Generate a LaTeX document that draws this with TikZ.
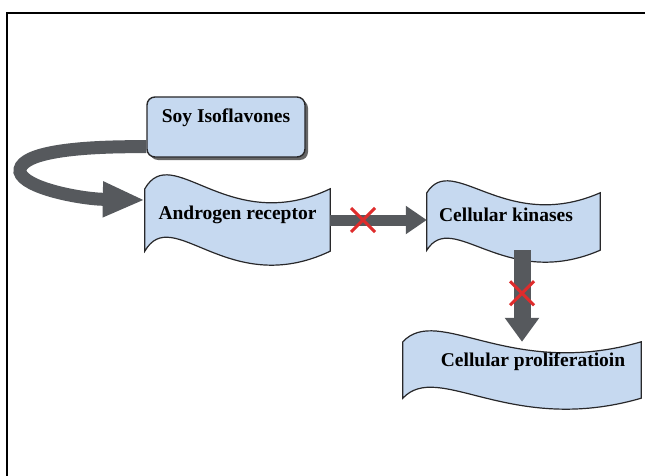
\documentclass[tikz,border=0pt]{standalone}
\usepackage{fontspec}
\setmainfont{Liberation Serif}
\usetikzlibrary{arrows.meta,calc,shapes.misc,shadows,backgrounds}

\definecolor{boxblue}{RGB}{198,217,240}
\definecolor{edgegray}{RGB}{40,40,42}
\definecolor{arrowgray}{RGB}{86,89,93}
\definecolor{crossred}{RGB}{222,44,44}

\tikzset{
	box/.style={draw=edgegray, line width=1.4pt, fill=boxblue, rounded corners=8pt,
		minimum width=158pt, minimum height=60pt, text depth=23pt,
		font=\bfseries\fontsize{19.5}{22}\selectfont,
		drop shadow={shadow xshift=3pt, shadow yshift=-3pt, fill=black!60, opacity=1}},
	tape/.style={inner sep=0pt, font=\bfseries\fontsize{19.5}{22}\selectfont},
	tapeline/.style={draw=edgegray, line width=1.2pt, fill=boxblue},
	flow/.style={draw=arrowgray, line width=11pt, -{Triangle[length=21pt,width=27pt]}},
	blockmark/.style={cross out, draw=crossred, line width=3pt, minimum size=21pt, inner sep=0pt}
}

% wavy banner behind a node: name, wave height
\newcommand{\drawtape}[2]{%
	\path[tapeline] let \p1=(#1.north west), \p2=(#1.south east), \n1={\x2-\x1}, \n2={#2*3.46} in
		(\x1,\y1) .. controls (\x1+0.15*\n1,\y1+\n2) and (\x1+0.45*\n1,\y1-\n2) .. (\x2,\y1)
		-- (\x2,\y2) .. controls (\x1+0.45*\n1,\y2-\n2) and (\x1+0.15*\n1,\y2+\n2) .. (\x1,\y2)
		-- cycle;}

\begin{document}
\begin{tikzpicture}[x=1pt,y=-1pt]
	\useasboundingbox (0,0) rectangle (645,476);
	\draw [line width=1.3pt] (7,476) -- (7,13) -- (645,13);

	\node (soy) [box] at (226,127) {Soy Isoflavones};
	\node (ar) [tape, minimum width=185pt, minimum height=62pt, text depth=14pt] at (237.5,220) {Androgen receptor};
	\node (ck) [tape, minimum width=173pt, minimum height=57pt, text depth=13pt] at (513.5,221.5) {\hspace*{-15pt}Cellular kinases};
	\node (pl) [tape, minimum width=238pt, minimum height=56pt, text depth=20pt] at (522,370) {\hspace*{22pt}Cellular proliferatioin};

	\begin{scope}[on background layer]
		\drawtape{ar}{14}
		\drawtape{ck}{12}
		\drawtape{pl}{11}
	\end{scope}

	\draw [flow, line width=13pt, -{Triangle[length=42pt,width=33pt]}]
		([yshift=11pt]soy.south west) .. controls (58,146) and (18,156) .. (20,172)
		.. controls (24,188) and (80,199) .. ([yshift=20pt]ar.west);
	\draw [flow] (ar.east) -- (ar.east -| ck.west);
	\draw [flow, line width=17pt, -{Triangle[length=24pt,width=33pt]}] (ck.south -| pl.north) -- (pl.north);

	\node (stop1) [blockmark] at ($(ar.east)!0.34!(ar.east -| ck.west)$) {};
	\node (stop2) [blockmark] at ($(ck.south -| pl.north)!0.47!(pl.north)$) {};
\end{tikzpicture}
\end{document}
